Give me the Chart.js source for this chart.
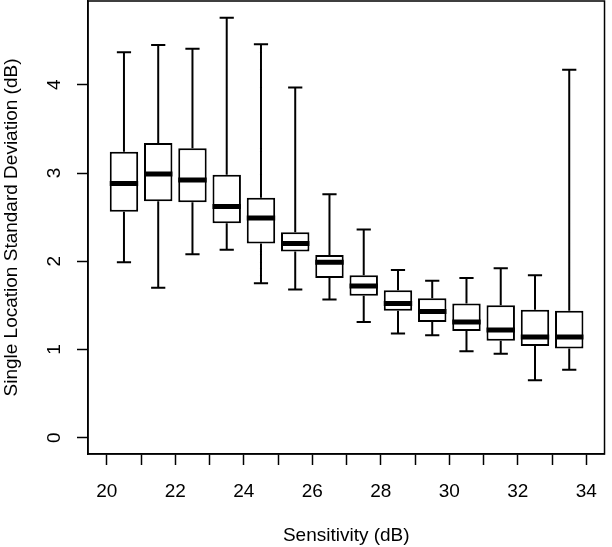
<!DOCTYPE html>
<html>
<head>
<meta charset="utf-8">
<script src="https://cdn.jsdelivr.net/npm/chart.js@4/dist/chart.umd.min.js"></script>
<style>
  html, body { margin: 0; padding: 0; background: #ffffff; }
  #wrap { width: 612px; height: 547px; }
</style>
</head>
<body>
<div id="wrap"><canvas id="c" width="612" height="547"></canvas></div>
<script>
// ---- data ----
const positions   = [20.5, 21.5, 22.5, 23.5, 24.5, 25.5, 26.5, 27.5, 28.5, 29.5, 30.5, 31.5, 32.5, 33.5];
const whiskerLow  = [1.99, 1.70, 2.08, 2.13, 1.75, 1.68, 1.565, 1.31, 1.18, 1.16, 0.98, 0.95, 0.65, 0.77];
const quartile1   = [2.56, 2.68, 2.67, 2.43, 2.20, 2.11, 1.81, 1.61, 1.44, 1.31, 1.21, 1.10, 1.04, 1.01];
const medians     = [2.88, 2.99, 2.92, 2.62, 2.49, 2.20, 1.99, 1.72, 1.52, 1.43, 1.31, 1.22, 1.14, 1.14];
const quartile3   = [3.24, 3.34, 3.28, 2.98, 2.72, 2.33, 2.07, 1.84, 1.67, 1.58, 1.52, 1.50, 1.45, 1.44];
const whiskerHigh = [4.37, 4.45, 4.41, 4.76, 4.46, 3.97, 2.76, 2.36, 1.90, 1.78, 1.81, 1.92, 1.84, 4.17];
const xTickValues = [20, 21, 22, 23, 24, 25, 26, 27, 28, 29, 30, 31, 32, 33, 34];
const yTickValues = [0, 1, 2, 3, 4];
const xTitle = 'Sensitivity (dB)';
const yTitle = 'Single Location Standard Deviation (dB)';

// ---- geometry in data units ----
const BOX_FRAC = 0.83;          // box width as fraction of spacing
const HALF_BOX = BOX_FRAC / 2;
const HALF_CAP = HALF_BOX / 2;
const FONT_SIZE = 19;

const boxData = positions.map((x, i) => ({ x: x, y: [quartile1[i], quartile3[i]] }));
const whiskerData = [];
const capData = [];
const medianData = [];
positions.forEach((x, i) => {
  whiskerData.push({ x: x, y: quartile3[i] }, { x: x, y: whiskerHigh[i] }, { x: x, y: null });
  whiskerData.push({ x: x, y: quartile1[i] }, { x: x, y: whiskerLow[i] }, { x: x, y: null });
  capData.push({ x: x - HALF_CAP, y: whiskerHigh[i] }, { x: x + HALF_CAP, y: whiskerHigh[i] }, { x: x, y: null });
  capData.push({ x: x - HALF_CAP, y: whiskerLow[i] }, { x: x + HALF_CAP, y: whiskerLow[i] }, { x: x, y: null });
  medianData.push({ x: x - HALF_BOX, y: medians[i] }, { x: x + HALF_BOX, y: medians[i] }, { x: x, y: null });
});

Chart.defaults.font.family = "'Liberation Sans', Arial, Helvetica, sans-serif";
Chart.defaults.font.size = FONT_SIZE;
Chart.defaults.color = '#000000';

const segLine = (data, width, order) => ({
  type: 'line', data: data, borderColor: '#000000', borderWidth: width,
  pointRadius: 0, spanGaps: false, fill: false, tension: 0,
  borderCapStyle: 'butt', order: order
});

const framePlugin = {
  id: 'frame',
  afterDraw(chart) {
    const a = chart.chartArea, ctx = chart.ctx;
    ctx.save();
    ctx.strokeStyle = '#000000';
    ctx.lineWidth = 1.5;
    ctx.strokeRect(a.left, a.top, a.right - a.left, a.bottom - a.top);
    ctx.restore();
  }
};

// y tick labels drawn parallel to the axis (as in the reference), using the scale's ticks
const yLabelPlugin = {
  id: 'yLabels',
  afterDraw(chart) {
    const s = chart.scales.y, ctx = chart.ctx;
    ctx.save();
    ctx.fillStyle = '#000000';
    ctx.font = FONT_SIZE + "px 'Liberation Sans', Arial, sans-serif";
    ctx.textAlign = 'center';
    ctx.textBaseline = 'middle';
    s.ticks.forEach(t => {
      const py = s.getPixelForValue(t.value);
      ctx.save();
      ctx.translate(54.5, py);
      ctx.rotate(-Math.PI / 2);
      ctx.fillText(String(t.value), 0, 0);
      ctx.restore();
    });
    ctx.restore();
  }
};

new Chart(document.getElementById('c'), {
  type: 'bar',
  data: {
    datasets: [
      segLine(medianData, 5, 0),
      segLine(capData, 2, 1),
      segLine(whiskerData, 2, 2),
      {
        type: 'bar', data: boxData, backgroundColor: '#ffffff', borderColor: '#000000',
        borderWidth: 2, borderSkipped: false, barPercentage: BOX_FRAC, categoryPercentage: 1.0,
        order: 3
      }
    ]
  },
  options: {
    responsive: false,
    animation: false,
    events: [],
    layout: { padding: { top: 1, right: 2, left: 0, bottom: 0 } },
    plugins: { legend: { display: false }, tooltip: { enabled: false } },
    scales: {
      x: {
        type: 'linear', min: 19.45, max: 34.53, offset: false,
        afterBuildTicks: s => { s.ticks = xTickValues.map(v => ({ value: v })); },
        afterFit: s => { s.height = 93; },
        ticks: {
          autoSkip: false, maxRotation: 0, minRotation: 0, padding: 15,
          callback: v => (v % 2 === 0 ? String(v) : '')
        },
        grid: { display: true, offset: false, drawOnChartArea: false, drawTicks: true, tickLength: 11, tickColor: '#000000', tickWidth: 1.5 },
        border: { display: true, color: '#000000', width: 1.5 },
        title: { display: true, text: xTitle, padding: { top: 0, bottom: 0 }, font: { size: FONT_SIZE } }
      },
      y: {
        type: 'linear', min: -0.185, max: 4.95,
        afterBuildTicks: s => { s.ticks = yTickValues.map(v => ({ value: v })); },
        afterFit: s => { s.width = 88; },
        ticks: { display: false },
        grid: { display: true, offset: false, drawOnChartArea: false, drawTicks: true, tickLength: 11, tickColor: '#000000', tickWidth: 1.5 },
        border: { display: true, color: '#000000', width: 1.5 },
        title: { display: true, text: yTitle, padding: { top: 0, bottom: 0 }, font: { size: FONT_SIZE } }
      }
    }
  },
  plugins: [framePlugin, yLabelPlugin]
});
</script>
</body>
</html>
